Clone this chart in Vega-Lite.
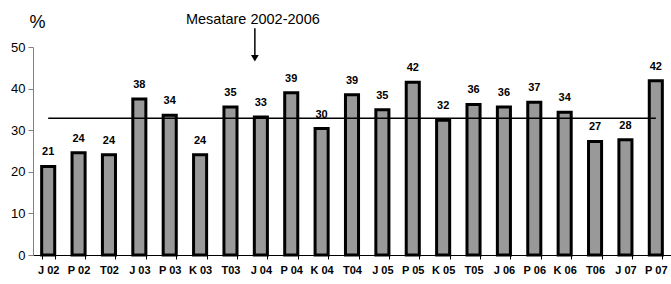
{
  "$schema": "https://vega.github.io/schema/vega-lite/v6.json",
  "width": 638,
  "height": 208,
  "autosize": {"type": "none"},
  "padding": {"left": 33, "top": 47, "right": 0, "bottom": 29},
  "background": "white",
  "config": {"view": {"stroke": null}, "font": "Liberation Sans"},
  "data": {
    "values": [
      {"period": "J 02", "value": 21.3, "label": "21"},
      {"period": "P 02", "value": 24.6, "label": "24"},
      {"period": "T02", "value": 24.1, "label": "24"},
      {"period": "J 03", "value": 37.5, "label": "38"},
      {"period": "P 03", "value": 33.6, "label": "34"},
      {"period": "K 03", "value": 24.1, "label": "24"},
      {"period": "T03", "value": 35.6, "label": "35"},
      {"period": "J 04", "value": 33.2, "label": "33"},
      {"period": "P 04", "value": 39.0, "label": "39"},
      {"period": "K 04", "value": 30.4, "label": "30"},
      {"period": "T04", "value": 38.5, "label": "39"},
      {"period": "J 05", "value": 34.9, "label": "35"},
      {"period": "P 05", "value": 41.5, "label": "42"},
      {"period": "K 05", "value": 32.4, "label": "32"},
      {"period": "T05", "value": 36.2, "label": "36"},
      {"period": "J 06", "value": 35.6, "label": "36"},
      {"period": "P 06", "value": 36.7, "label": "37"},
      {"period": "K 06", "value": 34.3, "label": "34"},
      {"period": "T06", "value": 27.3, "label": "27"},
      {"period": "J 07", "value": 27.7, "label": "28"},
      {"period": "P 07", "value": 41.9, "label": "42"}
    ]
  },
  "encoding": {
    "x": {
      "field": "period", "type": "nominal", "sort": null,
      "scale": {"paddingInner": 0.57, "paddingOuter": 0.285},
      "axis": {
        "title": null, "labelAngle": 0, "labelFont": "Liberation Sans", "labelFontSize": 11,
        "labelFontWeight": "bold", "labelColor": "black", "domainColor": "black", "domainWidth": 1,
        "tickColor": "black", "tickSize": 4, "tickBand": "extent", "labelPadding": 5
      }
    }
  },
  "layer": [
    {
      "mark": {"type": "bar", "fill": "#999999", "stroke": "black", "strokeWidth": 3},
      "encoding": {
        "y": {
          "field": "value", "type": "quantitative",
          "scale": {"domain": [0, 50], "nice": false},
          "axis": {
            "values": [0, 10, 20, 30, 40, 50], "grid": false, "title": "%", "titleAngle": 0,
            "titleX": 4, "titleY": -16, "titleFontSize": 18, "titleFontWeight": "normal",
            "titleFont": "Liberation Sans", "titleColor": "black", "titleAlign": "center",
            "labelFont": "Liberation Sans", "labelFontSize": 13, "labelColor": "black",
            "domainColor": "#808080", "tickColor": "#808080", "tickSize": 5, "labelPadding": 3
          }
        }
      }
    },
    {
      "mark": {"type": "text", "baseline": "bottom", "dy": -9, "fontSize": 11, "fontWeight": "bold", "font": "Liberation Sans", "color": "black"},
      "encoding": {
        "y": {"field": "value", "type": "quantitative"},
        "text": {"field": "label"}
      }
    },
    {
      "mark": {"type": "line", "color": "black", "strokeWidth": 1.5},
      "encoding": {"y": {"datum": 32.9}}
    },
    {
      "transform": [{"filter": "datum.period == 'J 04'"}],
      "mark": {"type": "text", "text": "Mesatare 2002-2006", "fontSize": 14.5, "font": "Liberation Sans", "color": "black", "xOffset": -8, "baseline": "middle", "letterSpacing": -0.4},
      "encoding": {"y": {"datum": 56.4}}
    },
    {
      "transform": [{"filter": "datum.period == 'J 04'"}],
      "mark": {"type": "rule", "color": "black", "strokeWidth": 1.5, "xOffset": -6},
      "encoding": {"y": {"datum": 54.5}, "y2": {"datum": 48}}
    },
    {
      "transform": [{"filter": "datum.period == 'J 04'"}],
      "mark": {"type": "point", "shape": "triangle-down", "filled": true, "color": "black", "opacity": 1, "size": 60, "xOffset": -6},
      "encoding": {"y": {"datum": 47.3}}
    }
  ]
}
